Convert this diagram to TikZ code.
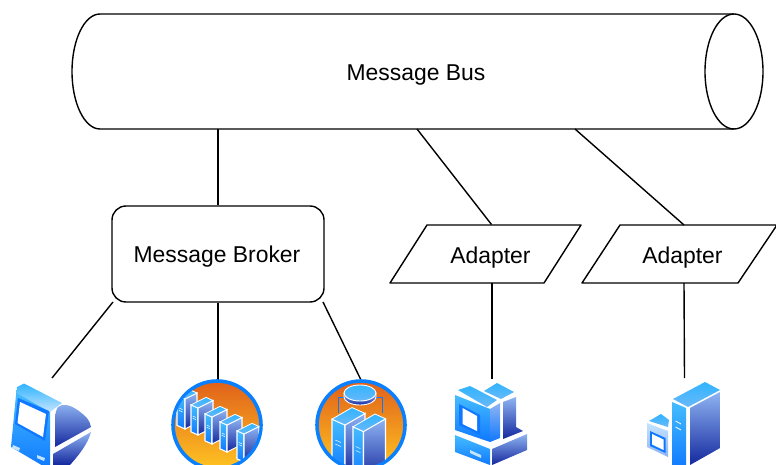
\documentclass[tikz,border=0pt]{standalone}
\usepackage{fontspec}
\setmainfont{Liberation Sans}
\usetikzlibrary{shapes.geometric}
\definecolor{lite}{HTML}{45BDFF}
\definecolor{mid}{HTML}{0F78FF}
\definecolor{dk1}{HTML}{8FB4F2}
\definecolor{dk2}{HTML}{14289E}
\definecolor{ringblue}{HTML}{0A80FF}
\definecolor{orgtop}{HTML}{E0601A}
\definecolor{orgbot}{HTML}{FFC422}
\definecolor{toplite}{HTML}{30B4FF}
\definecolor{bezel}{HTML}{C4E4FF}
\tikzset{
  line/.style={draw=black,line width=1.4pt},
  lbl/.style={font=\fontsize{22.9}{26}\selectfont,text=black},
  brokerbox/.style={draw=black,line width=1.4pt,rounded corners=14pt,minimum width=212pt,minimum height=96pt,inner sep=0pt,lbl},
  adapterbox/.style={line width=1.4pt,draw=black,lbl},
  lightface/.style={top color=lite,bottom color=mid,draw=white,line width=1.1pt},
  darkface/.style={top color=dk1,bottom color=dk2,draw=white,line width=1.1pt},
  topface/.style={top color=toplite,bottom color=dk1!50!lite,draw=white,line width=0.8pt},
  palefacestyle/.style={top color=bezel,bottom color=dk1,draw=none},
  screenblue/.style={fill=mid,draw=none},
  screenwhite/.style={fill=white,draw=none},
  ring/.style={top color=orgtop,bottom color=orgbot,draw=ringblue,line width=3.6pt},
}
\newcommand{\srvbox}[6]{%
  \path[lightface] (#1,#2) -- ({#1-#3},{#2-#3*0.45}) -- ({#1-#3},{#2-#3*0.45+#5}) -- (#1,{#2+#5}) -- cycle;
  \path[darkface] (#1,#2) -- ({#1+#4},{#2-#4*#6}) -- ({#1+#4},{#2-#4*#6+#5}) -- (#1,{#2+#5}) -- cycle;
  \path[topface] (#1,#2) -- ({#1-#3},{#2-#3*0.45}) -- ({#1-#3+#4},{#2-#3*0.45-#4*#6}) -- ({#1+#4},{#2-#4*#6}) -- cycle;
  \draw[white,line width=.5pt] ({#1-#3*.75},{#2+#5*.3}) -- ({#1-#3*.3},{#2+#5*.3+#3*.2});
  \draw[white,line width=.5pt] ({#1-#3*.75},{#2+#5*.38}) -- ({#1-#3*.3},{#2+#5*.38+#3*.2});
}
\begin{document}
\begin{tikzpicture}[x=1pt,y=-1pt]
\useasboundingbox (0,0) rectangle (776,465);
\clip (0,0) rectangle (776,465);
% bus
\coordinate (busa) at (218,129);
\coordinate (busb) at (417,129);
\coordinate (busc) at (575,129);
\path[line] (100,14) -- (734,14) arc[start angle=-90,end angle=90,x radius=29,y radius=57.5] -- (100,129) arc[start angle=90,end angle=270,x radius=28,y radius=57.5] -- cycle;
\path[line] (734,14) arc[start angle=-90,end angle=-270,x radius=29,y radius=57.5];
\node[lbl] (bus) at (416,75) {Message Bus};
% broker
\node[brokerbox] (broker) at (218,254) {\hspace*{-2pt}\raisebox{-9pt}[0pt][0pt]{Message Broker}};
\coordinate (brl) at (113,302);
\coordinate (brr) at (323,302);
% adapters
\path[adapterbox,line join=round] (427,225) -- (581,225) -- (544,283) -- (390,283) -- cycle;
\path[adapterbox,line join=round] (620,225) -- (777,225) -- (738,283) -- (582,283) -- cycle;
\node[lbl] (ada) at (490.5,258) {Adapter};
\node[lbl] (adb) at (682.5,258) {Adapter};
\coordinate (adatop) at (491.5,224.5);
\coordinate (adabot) at (492,283);
\coordinate (adbtop) at (684,225);
\coordinate (adbbot) at (684,283);
% free ends at icons
\coordinate (ic1) at (52,378);
\coordinate (ic2) at (218,380);
\coordinate (ic3) at (361,380);
\coordinate (ic4) at (492,379);
\coordinate (ic5) at (684.5,378);
\draw[line] (busa) -- (broker.north);
\draw[line] (busb) -- (adatop);
\draw[line] (busc) -- (adbtop);
\draw[line] (brl) -- (ic1);
\draw[line] (broker.south) -- (ic2);
\draw[line] (brr) -- (ic3);
\draw[line] (adabot) -- (ic4);
\draw[line] (adbbot) -- (ic5);
% icon 1: computer
\path[lightface,draw=none] (16.5,390) -- (50,410) -- (50,470) -- (11,447) -- cycle;
\path[top color=toplite,bottom color=bezel,draw=none] (17,387) -- (24,383.5) -- (62,403) -- (50,412) -- (16.5,393) -- cycle;
\path[screenblue] (18,398) -- (49,411) -- (45,441) -- (15,424) -- cycle;
\path[screenwhite] (20,402) -- (46,414) -- (43,437) -- (17.5,423) -- cycle;
\path[darkface,draw=none] (58,407) .. controls (63,403) and (70,405) .. (76,409) .. controls (85,415) and (90,420) .. (91,427) -- (55,447) -- (55,420) .. controls (55,414) and (56,410) .. (58,407) -- cycle;
\path[darkface,draw=none] (53,454) -- (91,432) .. controls (88,444) and (78,456) .. (70,465) -- (53,465) -- cycle;
\path[fill=bezel] (13,445) -- (20,448) -- (19,451) -- (12,448) -- cycle;
\path[fill=bezel] (37,455) -- (45,458) -- (44,461) -- (37,458) -- cycle;
% icon 2: server ring
\begin{scope}
\path[ring] (217,425) circle (44);
\clip (217,425) circle (42.4);
\srvbox{185}{399}{8}{12}{30}{0.5}
\srvbox{198}{408}{7}{15}{27}{0.5}
\srvbox{212}{417}{7}{15}{27}{0.5}
\srvbox{227}{425}{7}{15}{27}{0.5}
\srvbox{244}{434}{7}{15}{28}{0.5}
\end{scope}
% icon 3: db ring
\begin{scope}
\path[ring] (361,425) circle (44);
\clip (361,425) circle (42.4);
\draw[mid,line width=.7pt] (338,413) -- (338,397) -- (382,397) -- (382,413);
\path[darkface,line width=.9pt] (344,393) -- (344,397) arc[start angle=180,end angle=0,x radius=16,y radius=8] -- (376,393) -- cycle;
\path[topface,line width=.9pt] (360,393) ellipse [x radius=16,y radius=8];
\srvbox{345}{425}{13}{20}{50}{0.58}
\srvbox{363.5}{431.5}{10.5}{22}{50}{0.58}
\end{scope}
% icon 4: desktop
\path[lightface,draw=none] (455,395) -- (490,409) -- (490,442) -- (455,430) -- cycle;
\path[topface,draw=none] (458,390) -- (470,386) -- (497,400) -- (487,407) -- cycle;
\path[screenblue] (459,404) -- (480,415) -- (480,435) -- (459,425) -- cycle;
\path[screenwhite] (462.5,408) -- (477,416) -- (477,431) -- (462.5,424) -- cycle;
\path[top color=dk1,bottom color=mid,draw=none] (490,409) -- (500,403) -- (500,438) -- (490,442) -- cycle;
\path[topface,draw=none] (484,391) -- (497,383) -- (514,392) -- (501,399) -- cycle;
\path[darkface,draw=none] (503,402) -- (516,397) -- (516,427) -- (523,431) -- (503,439) -- cycle;
\path[lightface,draw=none] (455,435) -- (490,449) -- (490,465) -- (455,452) -- cycle;
\path[fill=bezel] (470,450) -- (481,455) -- (481,458) -- (470,453) -- cycle;
\path[darkface,draw=none] (492,449) -- (527,434) -- (527,450) -- (492,465) -- cycle;
% icon 5: tower
\path[lightface,draw=none] (672,402) -- (686,408) -- (686,470) -- (672,470) -- cycle;
\path[topface,draw=none] (673,399) -- (705,382) -- (720,390) -- (688,407) -- cycle;
\path[darkface,draw=none] (690,408) -- (720,392) -- (720,448) -- (690,465) -- cycle;
\draw[white,line width=.8pt] (675.5,421) -- (681,424);
\draw[white,line width=.8pt] (675.5,427) -- (681,430);
\path[topface,draw=none] (649,421) -- (661,414) -- (669,420) -- (668,427) -- cycle;
\path[palefacestyle] (647,423) -- (668,431) -- (668,457) -- (647,447) -- cycle;
\path[screenblue] (650,431) -- (665.5,438) -- (665.5,453) -- (650,446) -- cycle;
\path[screenwhite] (652,434) -- (663.5,439.5) -- (663.5,450) -- (652,444.5) -- cycle;
\end{tikzpicture}
\end{document}
